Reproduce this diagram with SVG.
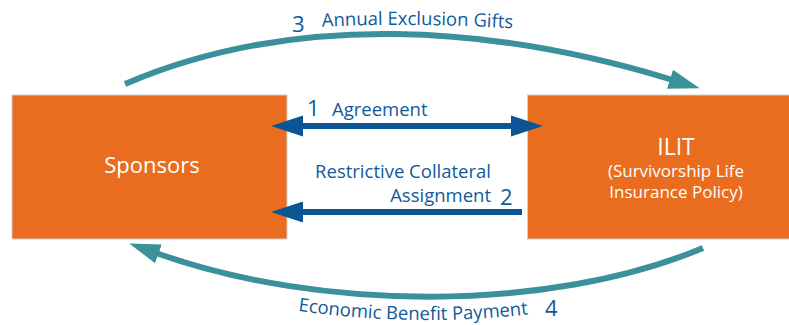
<svg xmlns="http://www.w3.org/2000/svg" width="789" height="325" viewBox="0 0 789 325">
  <style>
    .box { fill: #e96c1f; stroke: #cfcfcf; stroke-width: 1; }
    .name { fill: #ffffff; font-family: "Open Sans", "Noto Sans", sans-serif; text-anchor: middle; }
    .lbl { fill: #0f5a9a; font-family: "Open Sans", "Noto Sans", sans-serif; font-size: 18.5px; }
    .num { fill: #0f5a9a; font-family: "Open Sans", "Noto Sans", sans-serif; font-size: 22px; }
    .flow { fill: none; stroke: #0b5594; stroke-width: 6; }
    .loop { fill: none; stroke: #3b9199; stroke-width: 6; }
  </style>
  <defs>
    <marker id="headBlue" markerUnits="userSpaceOnUse" viewBox="0 -11 33 22" refX="1" refY="0" markerWidth="33" markerHeight="22" orient="auto-start-reverse">
      <path d="M0,-10.5 L32,0 L0,10.5 z" fill="#0b5594"/>
    </marker>
    <marker id="headTeal" markerUnits="userSpaceOnUse" viewBox="0 -11 33 22" refX="1" refY="0" markerWidth="33" markerHeight="22" orient="auto">
      <path d="M0,-10 L31,0 L0,10 z" fill="#3b9199"/>
    </marker>
    <!-- baselines for the curved labels -->
    <path id="tpTop" d="M 318,27 Q 420,22 522,29"/>
    <path id="tpBottom" d="M 292,310 Q 420,329 548,312"/>
  </defs>

  <g id="sponsors">
    <rect class="box" x="12" y="95" width="275" height="144"/>
    <text class="name" x="152" y="173" font-size="22">Sponsors</text>
  </g>

  <g id="ilit">
    <rect class="box" x="527.5" y="95" width="280" height="144"/>
    <text class="name" x="676" y="155" font-size="23">ILIT</text>
    <text class="name" x="676" y="177" font-size="17">(Survivorship Life</text>
    <text class="name" x="676" y="198" font-size="17">Insurance Policy)</text>
  </g>

  <g id="connectors">
    <!-- 1: agreement, both ways -->
    <path class="flow" d="M 302,126 L 512,126" marker-start="url(#headBlue)" marker-end="url(#headBlue)"/>
    <!-- 2: collateral assignment back to sponsors -->
    <path class="flow" d="M 522,212 L 302,212" marker-end="url(#headBlue)"/>
    <!-- 3: gifts over the top -->
    <path class="loop" d="M 125,84 C 295,11 494,25.3 671,79.5" marker-end="url(#headTeal)"/>
    <!-- 4: benefit payment underneath -->
    <path class="loop" d="M 703,248 C 546.6,313.5 317.6,310.5 157.5,253.5" marker-end="url(#headTeal)"/>
  </g>

  <g id="labels">
    <text class="num" x="307" y="116">1</text>
    <text class="lbl" x="332" y="116">Agreement</text>

    <text class="lbl" x="491" y="178" text-anchor="end">Restrictive Collateral</text>
    <text class="lbl" x="491" y="202" text-anchor="end">Assignment</text>
    <text class="num" x="500" y="205">2</text>

    <text class="num" x="292" y="32">3</text>
    <text class="lbl"><textPath href="#tpTop" startOffset="4">Annual Exclusion Gifts</textPath></text>

    <text class="lbl"><textPath href="#tpBottom" startOffset="6">Economic Benefit Payment</textPath></text>
    <text class="num" x="545" y="316">4</text>
  </g>
</svg>
